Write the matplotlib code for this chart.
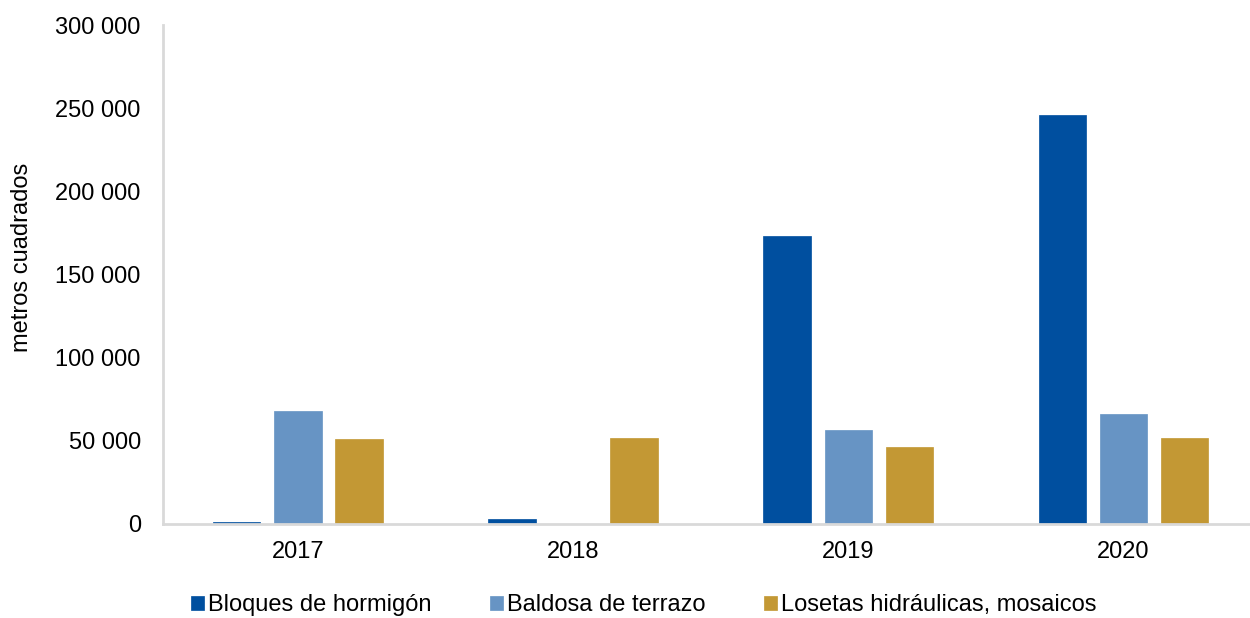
import matplotlib.pyplot as plt
import numpy as np
from matplotlib.ticker import FuncFormatter

plt.rcParams['font.family'] = ['Liberation Sans', 'DejaVu Sans']

years = ['2017', '2018', '2019', '2020']
bloques = [1500, 3000, 173300, 245900]
baldosa = [67900, 0, 56500, 66100]
losetas = [50900, 51700, 46300, 51500]
series = ['Bloques de hormigón', 'Baldosa de terrazo', 'Losetas hidráulicas, mosaicos']
colors = ['#004F9F', '#6794C4', '#C39834']

fig = plt.figure(figsize=(12.5, 6.18), dpi=100)
ax = fig.add_axes([163/1250, 1-524/618, 1-163/1250, (524-25)/618])

x = np.arange(len(years))
w = 0.172
step = 0.222
for i, (vals, lab, c) in enumerate(zip([bloques, baldosa, losetas], series, colors)):
    ax.bar(x + (i-1)*step, vals, w, color=c, label=lab, edgecolor=c, linewidth=0.5)

ax.set_xlim(-0.49, 3.46)
ax.set_ylim(0, 300000)
ax.set_yticks(range(0, 300001, 50000))
ax.yaxis.set_major_formatter(FuncFormatter(lambda v, p: f'{int(v):,}'.replace(',', ' ')))
ax.set_xticks(x)
ax.set_xticklabels(years)
ax.tick_params(length=0, labelsize=17, colors='black')
ax.tick_params(axis='y', pad=16)
ax.tick_params(axis='x', pad=12)
for s in ['top', 'right']:
    ax.spines[s].set_visible(False)
for s in ['left', 'bottom']:
    ax.spines[s].set_color('#D9D9D9')
    ax.spines[s].set_linewidth(2)

ax.set_ylabel('metros cuadrados', fontsize=17)
ax.yaxis.set_label_coords(-0.12, 0.535)

fig.legend(loc='center', bbox_to_anchor=(0.515, 0.021), ncol=3, frameon=False,
           fontsize=17, handlelength=0.55, handleheight=0.55, handletextpad=0.2,
           columnspacing=2.45)

fig.savefig('out.png', dpi=100)
